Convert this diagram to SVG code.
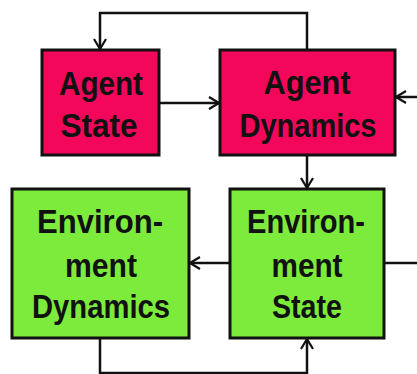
<svg xmlns="http://www.w3.org/2000/svg" width="417" height="374" viewBox="0 0 417 374">
<defs>
<marker id="arr" viewBox="0 0 12 14" refX="11" refY="7" markerWidth="12" markerHeight="14" markerUnits="userSpaceOnUse" orient="auto">
<path d="M1,1 L11,7 L1,13" fill="none" stroke="#111" stroke-width="2.2"/>
</marker>
<style>
.pink{fill:#F2075A;stroke:#111;stroke-width:3}
.green{fill:#7CEB3B;stroke:#111;stroke-width:3}
.lbl{font-family:"Liberation Sans",Arial,sans-serif;font-weight:bold;font-size:33px;fill:#111;text-anchor:middle}
.c{fill:none;stroke:#111;stroke-width:2.5}
</style>
</defs>
<rect width="417" height="374" fill="#fff"/>
<g id="connectors">
<path class="c" d="M307,50 V13 H100 V49" marker-end="url(#arr)"/>
<path class="c" d="M159,103 H219" marker-end="url(#arr)"/>
<path class="c" d="M417,97 H396" marker-end="url(#arr)"/>
<path class="c" d="M307,155 V188" marker-end="url(#arr)"/>
<path class="c" d="M230,263 H190" marker-end="url(#arr)"/>
<path class="c" d="M384,263 H417"/>
<path class="c" d="M100,338 V373 H307 V339" marker-end="url(#arr)"/>
</g>
<g id="agent-state">
<rect class="pink" x="42" y="50" width="117" height="105"/>
<text class="lbl" x="101" y="95" textLength="84" lengthAdjust="spacingAndGlyphs">Agent</text>
<text class="lbl" x="99" y="137" textLength="77" lengthAdjust="spacingAndGlyphs">State</text>
</g>
<g id="agent-dynamics">
<rect class="pink" x="220" y="50" width="175" height="105"/>
<text class="lbl" x="307" y="94" textLength="87" lengthAdjust="spacingAndGlyphs">Agent</text>
<text class="lbl" x="308" y="137" textLength="137" lengthAdjust="spacingAndGlyphs">Dynamics</text>
</g>
<g id="environment-dynamics">
<rect class="green" x="12" y="189" width="177" height="149"/>
<text class="lbl" x="100" y="233" textLength="126" lengthAdjust="spacingAndGlyphs">Environ-</text>
<text class="lbl" x="101" y="277" textLength="72" lengthAdjust="spacingAndGlyphs">ment</text>
<text class="lbl" x="101" y="318" textLength="138" lengthAdjust="spacingAndGlyphs">Dynamics</text>
</g>
<g id="environment-state">
<rect class="green" x="230" y="189" width="154" height="149"/>
<text class="lbl" x="306" y="233" textLength="118" lengthAdjust="spacingAndGlyphs">Environ-</text>
<text class="lbl" x="307" y="277" textLength="71" lengthAdjust="spacingAndGlyphs">ment</text>
<text class="lbl" x="307" y="318" textLength="70" lengthAdjust="spacingAndGlyphs">State</text>
</g>
</svg>
